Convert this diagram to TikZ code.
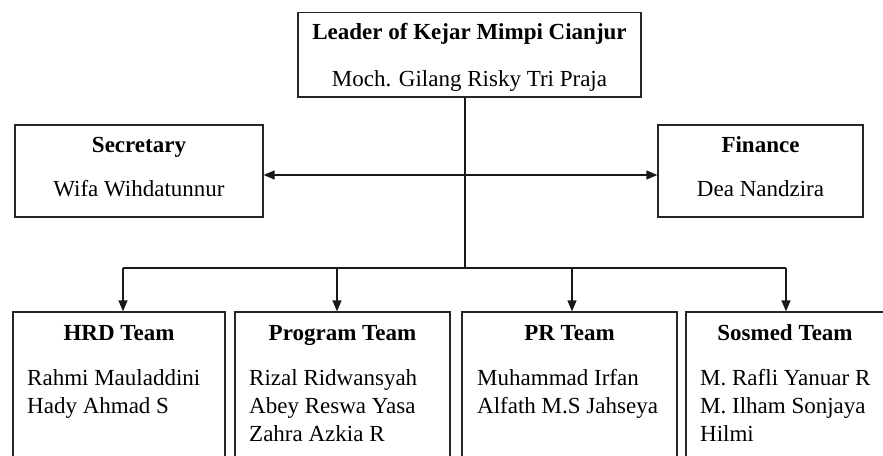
\documentclass[tikz,border=0pt]{standalone}
\usepackage{fontspec}
\setmainfont{Liberation Serif}
\usetikzlibrary{arrows.meta}
\begin{document}
\begin{tikzpicture}[x=1pt,y=-1pt,
  box/.style={draw=black!85,line width=1.3pt,inner sep=0pt,fill=none},
  headtxt/.style={anchor=base,inner sep=0pt,font=\fontsize{23}{28}\selectfont\bfseries},
  persontxt/.style={anchor=base,inner sep=0pt,font=\fontsize{23}{28}\selectfont},
  membertxt/.style={anchor=base west,inner sep=0pt,font=\fontsize{23}{28}\selectfont},
  conn/.style={draw=black!90,line width=1.3pt},
  arr/.style={conn,-{Triangle[length=11pt,width=9pt]}},
  darr/.style={conn,{Triangle[length=11pt,width=9pt]}-{Triangle[length=11pt,width=9pt]}}]
\useasboundingbox (0,0) rectangle (883,455);
\clip (0,0) rectangle (883,455);
% boxes
\node[box,minimum width=343pt,minimum height=84.5pt] (lead) at (469.5,54.75) {};
\node[box,minimum width=248pt,minimum height=92pt] (sec) at (139,171) {};
\node[box,minimum width=205pt,minimum height=92pt] (fin) at (760.5,171) {};
\node[box,minimum width=212pt,minimum height=180pt] (hrd) at (119,402) {};
\node[box,minimum width=215pt,minimum height=180pt] (prog) at (342.5,402) {};
\node[box,minimum width=215pt,minimum height=180pt] (pr) at (569.5,402) {};
\node[box,minimum width=198pt,minimum height=180pt] (sos) at (785,402) {};
% texts
\node[headtxt] (leadT) at (469.5,39.5) {Leader of Kejar Mimpi Cianjur};
\node[persontxt] (leadN) at (469.5,86) {Moch. Gilang Risky Tri Praja};
\node[headtxt] (secT) at (139,152.5) {Secretary};
\node[persontxt] (secN) at (139,196.5) {Wifa Wihdatunnur};
\node[headtxt] (finT) at (760.5,152.5) {Finance};
\node[persontxt] (finN) at (760.5,196.5) {Dea Nandzira};
\node[headtxt] (hrdT) at (119,340.5) {HRD Team};
\node[membertxt] (hrd1) at (27,385) {Rahmi Mauladdini};
\node[membertxt] (hrd2) at (27,413) {Hady Ahmad S};
\node[headtxt] (progT) at (342.5,340.5) {Program Team};
\node[membertxt] (prog1) at (249,385) {Rizal Ridwansyah};
\node[membertxt] (prog2) at (249,413) {Abey Reswa Yasa};
\node[membertxt] (prog3) at (249,441) {Zahra Azkia R};
\node[headtxt] (prT) at (569.5,340.5) {PR Team};
\node[membertxt] (pr1) at (477,385) {Muhammad Irfan};
\node[membertxt] (pr2) at (477,413) {Alfath M.S Jahseya};
\node[headtxt] (sosT) at (785,340.5) {Sosmed Team};
\node[membertxt] (sos1) at (700,385) {M. Rafli Yanuar R};
\node[membertxt] (sos2) at (700,413) {M. Ilham Sonjaya};
\node[membertxt] (sos3) at (700,441) {Hilmi};
% connectors
\coordinate (j1) at (465,175);
\coordinate (j2) at (465,268);
\coordinate (a1) at (123,268);
\coordinate (a2) at (337,268);
\coordinate (a3) at (572,268);
\coordinate (a4) at (786,268);
\draw[conn] (lead.south -| j2) -- (j2);
\draw[darr] (sec.east |- j1) -- (fin.west |- j1);
\draw[conn] (a1) -- (a4);
\draw[arr] (a1) -- (a1 |- hrd.north);
\draw[arr] (a2) -- (a2 |- prog.north);
\draw[arr] (a3) -- (a3 |- pr.north);
\draw[arr] (a4) -- (a4 |- sos.north);
\end{tikzpicture}
\end{document}
